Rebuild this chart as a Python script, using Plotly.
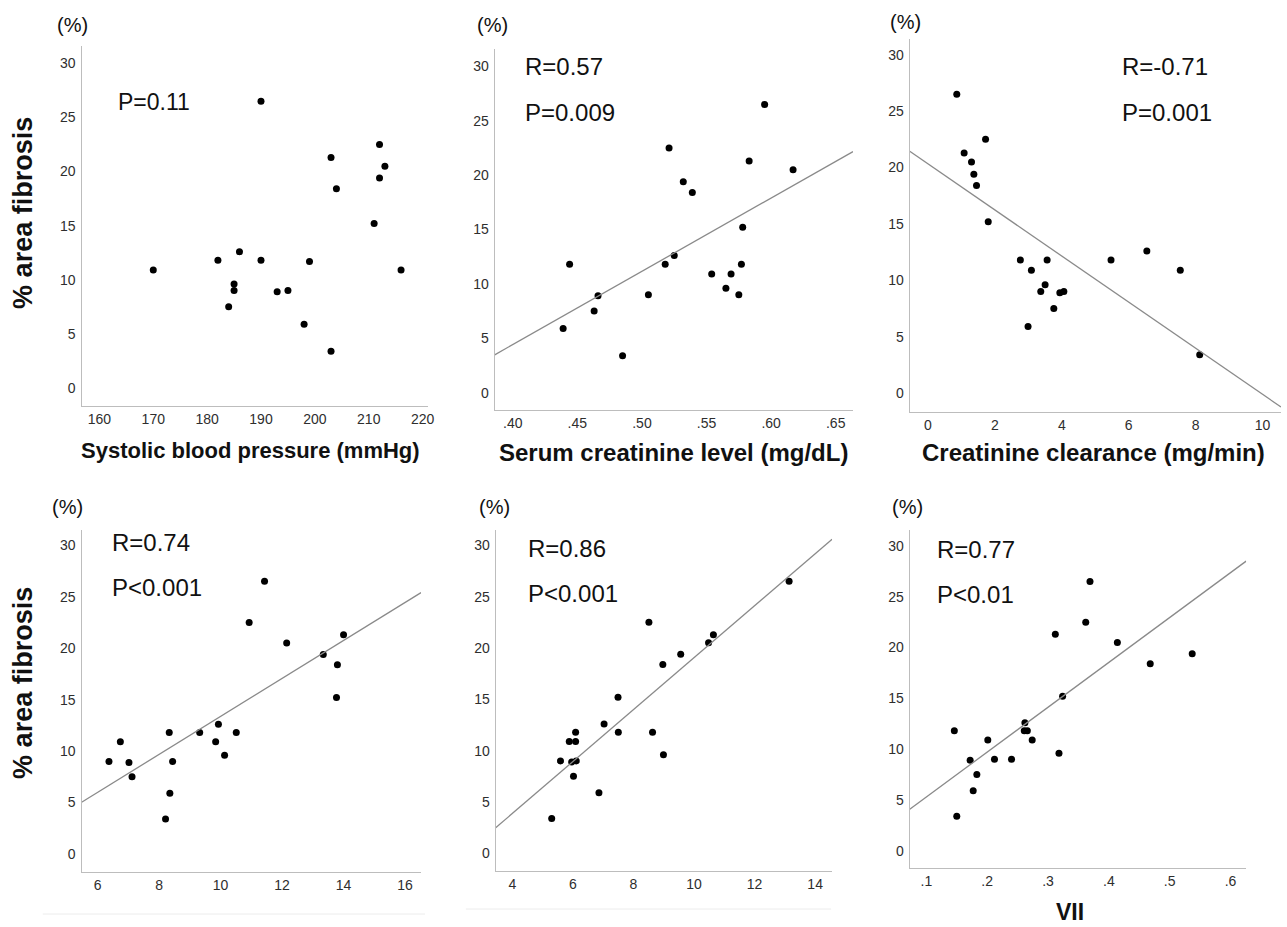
import numpy as np
import plotly.graph_objects as go

W, H = 1287, 927

# ---------------- data ----------------
sbp_x = [170, 182, 186, 185, 185, 184, 190, 190, 193, 195, 199, 198, 203, 203, 204, 211, 212, 212, 213, 216]
sbp_y = [10.9, 11.8, 12.6, 9.6, 9.0, 7.5, 26.5, 11.8, 8.9, 9.0, 11.7, 5.9, 3.4, 21.3, 18.4, 15.2, 22.5, 19.4, 20.5, 10.9]

scr_x = [0.439, 0.444, 0.463, 0.466, 0.485, 0.505, 0.518, 0.521, 0.525, 0.532,
         0.539, 0.554, 0.565, 0.569, 0.575, 0.577, 0.578, 0.583, 0.595, 0.617]
scr_y = [5.9, 11.8, 7.5, 8.9, 3.4, 9.0, 11.8, 22.5, 12.6, 19.4,
         18.4, 10.9, 9.6, 10.9, 9.0, 11.8, 15.2, 21.3, 26.5, 20.5]

ccr_x = [0.86, 1.08, 1.30, 1.37, 1.45, 1.72, 1.80, 2.76, 3.09, 3.56,
         3.50, 3.37, 2.99, 3.76, 3.94, 4.06, 5.47, 6.54, 7.54, 8.12]
ccr_y = [26.5, 21.3, 20.5, 19.4, 18.4, 22.5, 15.2, 11.8, 10.9, 11.8,
         9.6, 9.0, 5.9, 7.5, 8.9, 9.0, 11.8, 12.6, 10.9, 3.4]

p4_x = [6.37, 6.74, 7.02, 7.12, 8.21, 8.35, 8.33, 8.44, 9.32, 9.84,
        9.93, 10.13, 10.51, 10.93, 11.43, 12.15, 13.34, 13.80, 13.77, 14.00]
p4_y = [9.0, 10.9, 8.9, 7.5, 3.4, 5.9, 11.8, 9.0, 11.8, 10.9,
        12.6, 9.6, 11.8, 22.5, 26.5, 20.5, 19.4, 18.4, 15.2, 21.3]

p5_x = [5.30, 5.59, 5.88, 5.96, 6.09, 6.09, 6.11, 6.02, 6.86, 7.03,
        7.49, 7.50, 8.51, 8.63, 8.97, 8.99, 9.56, 10.48, 10.64, 13.14]
p5_y = [3.4, 9.0, 10.9, 8.9, 11.8, 10.9, 9.0, 7.5, 5.9, 12.6,
        15.2, 11.8, 22.5, 11.8, 18.4, 9.6, 19.4, 20.5, 21.3, 26.5]

vii_x = [0.146, 0.150, 0.172, 0.177, 0.183, 0.201, 0.212, 0.240, 0.262, 0.261,
         0.266, 0.274, 0.312, 0.318, 0.324, 0.362, 0.369, 0.414, 0.468, 0.537]
vii_y = [11.8, 3.4, 8.9, 5.9, 7.5, 10.9, 9.0, 9.0, 12.6, 11.8,
         11.8, 10.9, 21.3, 9.6, 15.2, 22.5, 26.5, 20.5, 18.4, 19.4]

y_ticks = [0, 5, 10, 15, 20, 25, 30]

sbp_ticks = [160, 170, 180, 190, 200, 210, 220]
sbp_labels = ["160", "170", "180", "190", "200", "210", "220"]
scr_ticks = [0.40, 0.45, 0.50, 0.55, 0.60, 0.65]
scr_labels = [".40", ".45", ".50", ".55", ".60", ".65"]
ccr_ticks = [0, 2, 4, 6, 8, 10]
ccr_labels = ["0", "2", "4", "6", "8", "10"]
p4_ticks = [6, 8, 10, 12, 14, 16]
p4_labels = ["6", "8", "10", "12", "14", "16"]
p5_ticks = [4, 6, 8, 10, 12, 14]
p5_labels = ["4", "6", "8", "10", "12", "14"]
vii_ticks = [0.1, 0.2, 0.3, 0.4, 0.5, 0.6]
vii_labels = [".1", ".2", ".3", ".4", ".5", ".6"]

x_titles = ["Systolic blood pressure (mmHg)", "Serum creatinine level (mg/dL)",
            "Creatinine clearance (mg/min)", "", "", "VII"]
stats_r = ["", "R=0.57", "R=-0.71", "R=0.74", "R=0.86", "R=0.77"]
stats_p = ["P=0.11", "P=0.009", "P=0.001", "P<0.001", "P<0.001", "P<0.01"]
show_fit = [False, True, True, True, True, True]

# ---------------- layout (pixel geometry) ----------------
panels = [
    dict(x=sbp_x, y=sbp_y, ticks=sbp_ticks, labels=sbp_labels,
         px=(82, 430), py=(46, 406), xr=(156.7, 221.0), yr=(-1.66, 31.6),
         title_xy=(252, 450), title_size=22, stat_xy=(117, 67), stat_size=23),
    dict(x=scr_x, y=scr_y, ticks=scr_ticks, labels=scr_labels,
         px=(497, 857), py=(49, 410), xr=(0.386, 0.6634), yr=(-1.6, 31.6),
         title_xy=(677, 452), title_size=24, stat_xy=(525, 67), stat_size=24),
    dict(x=ccr_x, y=ccr_y, ticks=ccr_ticks, labels=ccr_labels,
         px=(914, 1287), py=(39, 412), xr=(-0.546, 10.55), yr=(-1.68, 31.4),
         title_xy=(1099, 452), title_size=24, stat_xy=(1125, 67), stat_size=24),
    dict(x=p4_x, y=p4_y, ticks=p4_ticks, labels=p4_labels,
         px=(82, 423), py=(530, 872), xr=(5.48, 16.52), yr=(-1.75, 31.49),
         title_xy=(252, 917), title_size=23, stat_xy=(111, 542), stat_size=24),
    dict(x=p5_x, y=p5_y, ticks=p5_ticks, labels=p5_labels,
         px=(498, 836), py=(530, 871), xr=(3.45, 14.56), yr=(-1.72, 31.49),
         title_xy=(667, 917), title_size=23, stat_xy=(528, 548), stat_size=24),
    dict(x=vii_x, y=vii_y, ticks=vii_ticks, labels=vii_labels,
         px=(914, 1252), py=(530, 868), xr=(0.0727, 0.6257), yr=(-1.70, 31.57),
         title_xy=(1075, 927), title_size=23, stat_xy=(939, 549), stat_size=24),
]
pct_xy = [(73, 25), (495, 25), (910, 22), (68, 507), (497, 507), (912, 507)]


def fx(px):
    return px / W


def fy(py):
    return 1 - py / H


FONT = "Liberation Sans, Arial, Helvetica, sans-serif"
fig = go.Figure()
annotations = []
layout = {}

for i, p in enumerate(panels):
    n = "" if i == 0 else str(i + 1)
    xa, ya = "x" + n, "y" + n
    fig.add_trace(go.Scatter(
        x=p["x"], y=p["y"], mode="markers", xaxis=xa, yaxis=ya,
        marker=dict(color="black", size=7, line=dict(width=0)),
        showlegend=False, hoverinfo="x+y"))
    if show_fit[i]:
        slope, icpt = np.polyfit(p["x"], p["y"], 1)
        lx = np.array(p["xr"])
        fig.add_trace(go.Scatter(
            x=lx, y=slope * lx + icpt, mode="lines", xaxis=xa, yaxis=ya,
            line=dict(color="#8a8a8a", width=1.3), showlegend=False,
            hoverinfo="skip"))
    common = dict(showgrid=False, zeroline=False, showline=True,
                  linecolor="#bdbdbd", linewidth=1.3, ticks="",
                  tickfont=dict(family=FONT, size=14, color="#2e2e2e"),
                  fixedrange=True)
    layout["xaxis" + n] = dict(
        domain=[fx(p["px"][0]), fx(p["px"][1])], range=list(p["xr"]),
        anchor=ya, tickvals=p["ticks"], ticktext=p["labels"], **common)
    layout["yaxis" + n] = dict(
        domain=[fy(p["py"][1]), fy(p["py"][0])], range=list(p["yr"]),
        anchor=xa, tickvals=y_ticks, ticklabelstandoff=2, **common)

    # x-axis title
    if x_titles[i]:
        annotations.append(dict(
            text="<b>" + x_titles[i] + "</b>", xref="paper", yref="paper",
            x=fx(p["title_xy"][0]), y=fy(p["title_xy"][1]),
            xanchor="center", yanchor="bottom" if i == 5 else "middle",
            showarrow=False,
            font=dict(family=FONT, size=p["title_size"], color="#111111")))
    # (%) unit label
    annotations.append(dict(
        text="(%)", xref="paper", yref="paper",
        x=fx(pct_xy[i][0]), y=fy(pct_xy[i][1]), xanchor="center",
        yanchor="middle", showarrow=False,
        font=dict(family=FONT, size=20, color="#111111")))
    # statistics text
    sx, sy = p["stat_xy"]
    lines = [t for t in (stats_r[i], stats_p[i]) if t]
    if i == 0:
        sy = 102
    for k, t in enumerate(lines):
        annotations.append(dict(
            text=t, xref="paper", yref="paper", x=fx(sx), y=fy(sy + 45 * k),
            xanchor="left", yanchor="middle", showarrow=False,
            font=dict(family=FONT, size=p["stat_size"], color="#111111")))

# y-axis titles for both rows
for cy in (213, 683):
    annotations.append(dict(
        text="<b>% area fibrosis</b>", xref="paper", yref="paper",
        x=fx(23), y=fy(cy), xanchor="center", yanchor="middle",
        textangle=-90, showarrow=False,
        font=dict(family=FONT, size=27, color="#111111")))

shapes = [
    dict(type="line", xref="paper", yref="paper", x0=fx(43), x1=fx(427),
         y0=fy(914), y1=fy(914), line=dict(color="#ececec", width=1)),
    dict(type="line", xref="paper", yref="paper", x0=fx(468), x1=fx(835),
         y0=fy(909), y1=fy(909), line=dict(color="#ececec", width=1)),
]

fig.update_layout(
    width=W, height=H, margin=dict(l=0, r=0, t=0, b=0),
    paper_bgcolor="white", plot_bgcolor="white",
    annotations=annotations, shapes=shapes, **layout)

fig.write_html("out.html", config={"displayModeBar": False})
